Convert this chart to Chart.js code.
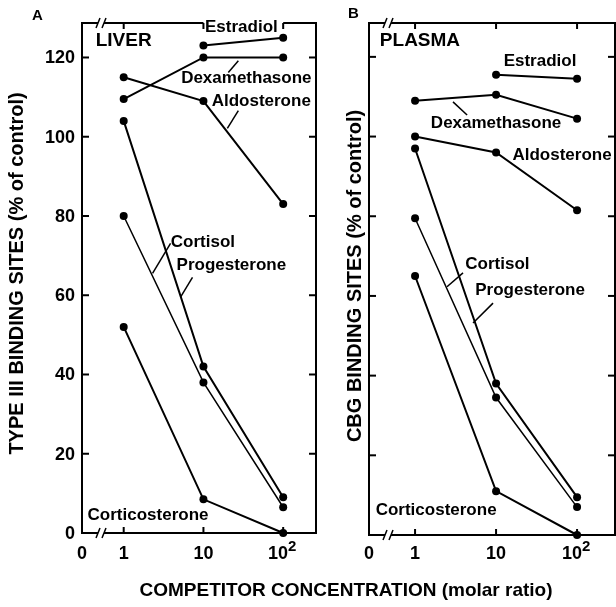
<!DOCTYPE html>
<html>
<head>
<meta charset="utf-8">
<title>Type III and CBG binding sites</title>
<script src="https://cdn.jsdelivr.net/npm/chart.js"></script>
<style>
  html, body { margin: 0; padding: 0; background: #fff; }
  #wrap {
    position: relative; width: 616px; height: 607px; overflow: hidden;
    font-family: "Liberation Sans", Arial, sans-serif; font-weight: bold; color: #000;
  }
  canvas { position: absolute; top: 0; }
  #liver { left: 0; }
  #plasma { left: 318px; }
  .letter { position: absolute; font-size: 15px; line-height: 18px; }
  #xtitle {
    position: absolute; left: 96px; width: 500px; top: 579px;
    text-align: center; font-size: 19px; line-height: 22px;
  }
</style>
</head>
<body>
<div id="wrap">
  <canvas id="liver" width="318" height="607"></canvas>
  <canvas id="plasma" width="298" height="607"></canvas>
  <div class="letter" style="left:32px; top:6px;">A</div>
  <div class="letter" style="left:348px; top:4px;">B</div>
  <div id="xtitle">COMPETITOR CONCENTRATION (molar ratio)</div>
</div>
<script>
// competitor concentration (molar ratio), log axis
const concentrations = [1, 10, 100];
const xTickValues = [1, 10, 100];
const yTickValues = [0, 20, 40, 60, 80, 100, 120];

// LIVER, type III binding sites (% of control)
const liverEstradiol      = [null, 123, 125];
const liverDexamethasone  = [109.5, 120, 120];
const liverAldosterone    = [115, 109, 83];
const liverCortisol       = [80, 38, 6.5];
const liverProgesterone   = [104, 42, 9];
const liverCorticosterone = [52, 8.5, 0];

// PLASMA, CBG binding sites (% of control)
const plasmaEstradiol      = [null, 115.5, 114.5];
const plasmaDexamethasone  = [109, 110.5, 104.5];
const plasmaAldosterone    = [100, 96, 81.5];
const plasmaCortisol       = [79.5, 34.5, 7];
const plasmaProgesterone   = [97, 38, 9.5];
const plasmaCorticosterone = [65, 11, 0];

const FONT = '"Liberation Sans", Arial, sans-serif';

function toPoints(values) {
  const pts = [];
  values.forEach((v, i) => { if (v !== null) pts.push({ x: concentrations[i], y: v }); });
  return pts;
}

function lineSet(name, values, width) {
  return {
    label: name,
    data: toPoints(values),
    borderColor: '#000',
    backgroundColor: '#000',
    borderWidth: width || 2,
    pointRadius: 4,
    pointBorderWidth: 0,
    pointBackgroundColor: '#000',
    tension: 0,
    clip: false
  };
}

// draws the box, broken axes, inward ticks, tick labels, titles, curve labels
function makeFramePlugin(panel) {
  return {
    id: 'frame',
    beforeDatasetsDraw(chart) {
      const { ctx, chartArea: a, scales: { x, y } } = chart;
      const seg = (x1, y1, x2, y2) => { ctx.beginPath(); ctx.moveTo(x1, y1); ctx.lineTo(x2, y2); ctx.stroke(); };
      ctx.save();
      ctx.strokeStyle = '#000';
      ctx.lineWidth = 2;
      const brk = a.left + 19;
      // left and right sides
      seg(a.left, a.top - 1, a.left, a.bottom + 1);
      seg(a.right, a.top - 1, a.right, a.bottom + 1);
      // bottom axis with break
      seg(a.left, a.bottom, brk - 3, a.bottom);
      seg(brk + 3, a.bottom, a.right, a.bottom);
      // top border with break (and gap for a label in panel A)
      seg(a.left, a.top, brk - 3, a.top);
      if (panel.topGap) {
        const g1 = x.getPixelForValue(panel.topGap[0]);
        const g2 = x.getPixelForValue(panel.topGap[1]);
        seg(brk + 3, a.top, g1, a.top);
        seg(g2, a.top, a.right, a.top);
      } else {
        seg(brk + 3, a.top, a.right, a.top);
      }
      // break slashes
      ctx.lineWidth = 1.5;
      [a.top, a.bottom].forEach(yy => {
        seg(brk - 5, yy + 5, brk - 1, yy - 5);
        seg(brk + 1, yy + 5, brk + 5, yy - 5);
      });
      // inward ticks
      ctx.lineWidth = 2;
      const tl = 7;
      yTickValues.forEach(v => {
        if (v === 0) return;
        const py = y.getPixelForValue(v);
        seg(a.left, py, a.left + tl, py);
        seg(a.right, py, a.right - tl, py);
      });
      xTickValues.forEach(v => {
        const px = x.getPixelForValue(v);
        seg(px, a.top, px, a.top + 6);
        seg(px, a.bottom, px, a.bottom - 6);
      });
      ctx.restore();
    },
    afterDatasetsDraw(chart) {
      const { ctx, chartArea: a, scales: { x, y } } = chart;
      ctx.save();
      ctx.fillStyle = '#000';
      ctx.strokeStyle = '#000';
      ctx.textBaseline = 'middle';

      // y tick labels
      if (panel.yTickLabels) {
        ctx.font = 'bold 18px ' + FONT;
        ctx.textAlign = 'right';
        yTickValues.forEach(v => ctx.fillText(String(v), a.left - 7, y.getPixelForValue(v) + 1));
      }

      // x tick labels: 0 at the broken origin, then 1, 10, 10^2
      const ly = 554;
      ctx.font = 'bold 18px ' + FONT;
      ctx.textAlign = 'center';
      ctx.fillText('0', a.left, ly);
      ctx.fillText('1', x.getPixelForValue(1), ly);
      ctx.fillText('10', x.getPixelForValue(10), ly);
      const p100 = x.getPixelForValue(100);
      const w10 = ctx.measureText('10').width;
      ctx.font = 'bold 15px ' + FONT;
      const w2 = ctx.measureText('2').width;
      const start = p100 - 1 - (w10 + w2) / 2;
      ctx.textAlign = 'left';
      ctx.font = 'bold 18px ' + FONT;
      ctx.fillText('10', start, ly);
      ctx.font = 'bold 15px ' + FONT;
      ctx.fillText('2', start + w10, ly - 7);

      // y title
      ctx.save();
      ctx.translate(panel.titleX, (a.top + a.bottom) / 2 + panel.titleShift);
      ctx.rotate(-Math.PI / 2);
      ctx.textAlign = 'center';
      ctx.font = 'bold 20px ' + FONT;
      ctx.fillText(panel.title, 0, 0);
      ctx.restore();

      // panel name
      ctx.textAlign = 'center';
      ctx.font = 'bold 19px ' + FONT;
      ctx.fillText(panel.name.text, x.getPixelForValue(panel.name.x), y.getPixelForValue(panel.name.y));

      // curve labels
      ctx.font = 'bold 17px ' + FONT;
      panel.labels.forEach(l => {
        ctx.fillText(l.text, x.getPixelForValue(l.x), y.getPixelForValue(l.y));
      });

      // leader lines
      ctx.lineWidth = 1.5;
      panel.leaders.forEach(s => {
        ctx.beginPath();
        ctx.moveTo(x.getPixelForValue(s[0]), y.getPixelForValue(s[1]));
        ctx.lineTo(x.getPixelForValue(s[2]), y.getPixelForValue(s[3]));
        ctx.stroke();
      });
      ctx.restore();
    }
  };
}

function makeChart(id, datasets, panel) {
  return new Chart(document.getElementById(id), {
    type: 'line',
    data: { datasets: datasets },
    options: {
      responsive: false,
      animation: false,
      layout: { padding: panel.padding, autoPadding: false },
      plugins: { legend: { display: false }, tooltip: { enabled: false } },
      scales: {
        x: { type: 'logarithmic', display: false, min: panel.xMin, max: panel.xMax },
        y: { type: 'linear', display: false, min: 0, max: panel.yMax }
      }
    },
    plugins: [makeFramePlugin(panel)]
  });
}

// label anchors (centre of text) and leader segments, in data units
const liverPanel = {
  padding: { left: 82, top: 23, right: 2, bottom: 74 },
  xMin: 0.307, xMax: 258, yMax: 128.7,
  yTickLabels: true,
  topGap: [10, 100],
  title: 'TYPE III BINDING SITES (% of control)',
  titleX: 17, titleShift: -4.5,
  name: { text: 'LIVER', x: 1.0, y: 124.3 },
  labels: [
    { text: 'Estradiol', x: 29.9, y: 127.6 },
    { text: 'Dexamethasone', x: 34.5, y: 114.7 },
    { text: 'Aldosterone', x: 53.1, y: 108.9 },
    { text: 'Cortisol', x: 9.86, y: 73.4 },
    { text: 'Progesterone', x: 22.4, y: 67.6 },
    { text: 'Corticosterone', x: 2.02, y: 4.5 }
  ],
  leaders: [
    [27.4, 119.2, 20.5, 116.2],
    [27.4, 106.6, 19.95, 102.1],
    [3.87, 73.1, 2.30, 65.5],
    [7.29, 64.5, 5.16, 59.5]
  ]
};

const plasmaPanel = {
  padding: { left: 51, top: 23, right: 1, bottom: 72 },
  xMin: 0.270, xMax: 294, yMax: 128.5,
  yTickLabels: false,
  topGap: null,
  title: 'CBG BINDING SITES (% of control)',
  titleX: 37, titleShift: -3,
  name: { text: 'PLASMA', x: 1.15, y: 124.0 },
  labels: [
    { text: 'Estradiol', x: 34.9, y: 119.0 },
    { text: 'Dexamethasone', x: 10, y: 103.2 },
    { text: 'Aldosterone', x: 65.3, y: 95.4 },
    { text: 'Cortisol', x: 10.4, y: 68.0 },
    { text: 'Progesterone', x: 26.3, y: 61.5 },
    { text: 'Corticosterone', x: 1.82, y: 6.3 }
  ],
  leaders: [
    [2.94, 108.7, 4.39, 105.4],
    [3.91, 65.8, 2.48, 62.3],
    [9.18, 58.2, 5.20, 53.2]
  ]
};

makeChart('liver', [
  lineSet('Estradiol', liverEstradiol),
  lineSet('Dexamethasone', liverDexamethasone),
  lineSet('Aldosterone', liverAldosterone),
  lineSet('Cortisol', liverCortisol, 1.5),
  lineSet('Progesterone', liverProgesterone),
  lineSet('Corticosterone', liverCorticosterone)
], liverPanel);

makeChart('plasma', [
  lineSet('Estradiol', plasmaEstradiol),
  lineSet('Dexamethasone', plasmaDexamethasone),
  lineSet('Aldosterone', plasmaAldosterone),
  lineSet('Cortisol', plasmaCortisol, 1.5),
  lineSet('Progesterone', plasmaProgesterone),
  lineSet('Corticosterone', plasmaCorticosterone)
], plasmaPanel);
</script>
</body>
</html>
